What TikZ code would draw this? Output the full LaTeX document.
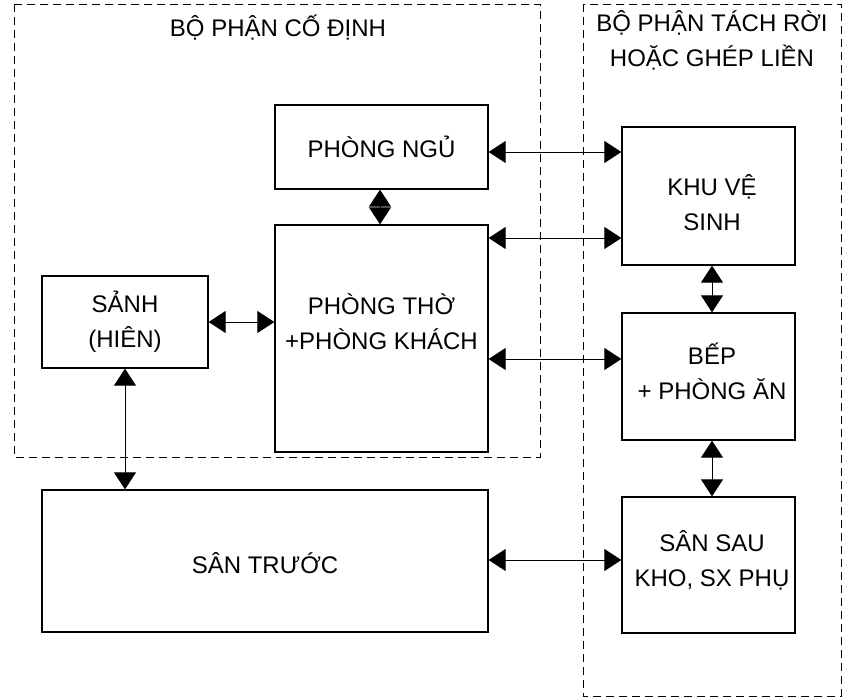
\documentclass[tikz,border=0pt]{standalone}
\usepackage{fontspec}
\setmainfont{Liberation Sans}
\usetikzlibrary{arrows.meta}
\tikzset{
  box/.style={draw, line width=1.3pt, inner sep=0pt},
  txt/.style={align=center, inner sep=0pt, font=\fontsize{24}{35}\selectfont},
  region/.style={draw, line width=0.9pt, dash pattern=on 8pt off 5pt},
  arr/.style={line width=1pt, {Triangle[length=17pt,width=22pt]}-{Triangle[length=17pt,width=22pt]}, shorten <=0pt, shorten >=0pt}
}
\begin{document}
\begin{tikzpicture}[x=1pt,y=-1pt]
\useasboundingbox (0,0) rectangle (842,698);
% regions
\draw[region] (14,4) rectangle (540,457);
\draw[region] (583,4) rectangle (841,696);
\node[txt] (t1) at (278,28) {BỘ PHẬN CỐ ĐỊNH};
\node[txt] (t2) at (712,40) {BỘ PHẬN TÁCH RỜI\\HOẶC GHÉP LIỀN};
% boxes
\node[box, minimum width=213pt, minimum height=84pt] (ngu) at (381.5,147) {};
\node[box, minimum width=213pt, minimum height=227pt] (tho) at (381.5,338.5) {};
\node[box, minimum width=166pt, minimum height=92pt] (sanh) at (125,322) {};
\node[box, minimum width=446pt, minimum height=142pt] (truoc) at (265,561) {};
\node[box, minimum width=173pt, minimum height=138pt] (kvs) at (708.5,196) {};
\node[box, minimum width=173pt, minimum height=127pt] (bep) at (708.5,376.5) {};
\node[box, minimum width=173pt, minimum height=136pt] (sau) at (708.5,565) {};
% texts
\node[txt] (ngut) at (381.5,147) {PHÒNG NGỦ};
\node[txt] (thot) at (381.5,322) {PHÒNG THỜ\\+PHÒNG KHÁCH};
\node[txt] (sanht) at (125,322) {SẢNH\\(HIÊN)};
\node[txt] (truoct) at (265,563) {SÂN TRƯỚC};
\node[txt] (kvst) at (712,203) {KHU VỆ\\SINH};
\node[txt] (bept) at (712,371) {BẾP\\+ PHÒNG ĂN};
\node[txt] (saut) at (712,560) {SÂN SAU\\KHO, SX PHỤ};
% connectors
\draw[arr] (ngu.east |- 0,152) -- (kvs.west |- 0,152);
\draw[arr] (tho.east |- 0,238) -- (kvs.west |- 0,238);
\draw[arr] (tho.east |- 0,359) -- (bep.west |- 0,359);
\draw[arr] (truoc.east |- 0,560) -- (sau.west |- 0,560);
\draw[arr] (sanh.east) -- (tho.west |- sanh.east);
\draw[arr] (ngu.south -| 380,0) -- (tho.north -| 380,0);
\draw[arr] (kvs.south -| 712,0) -- (bep.north -| 712,0);
\draw[arr] (bep.south -| 712,0) -- (sau.north -| 712,0);
\draw[arr] (sanh.south) -- (truoc.north -| sanh.south);
\end{tikzpicture}
\end{document}
